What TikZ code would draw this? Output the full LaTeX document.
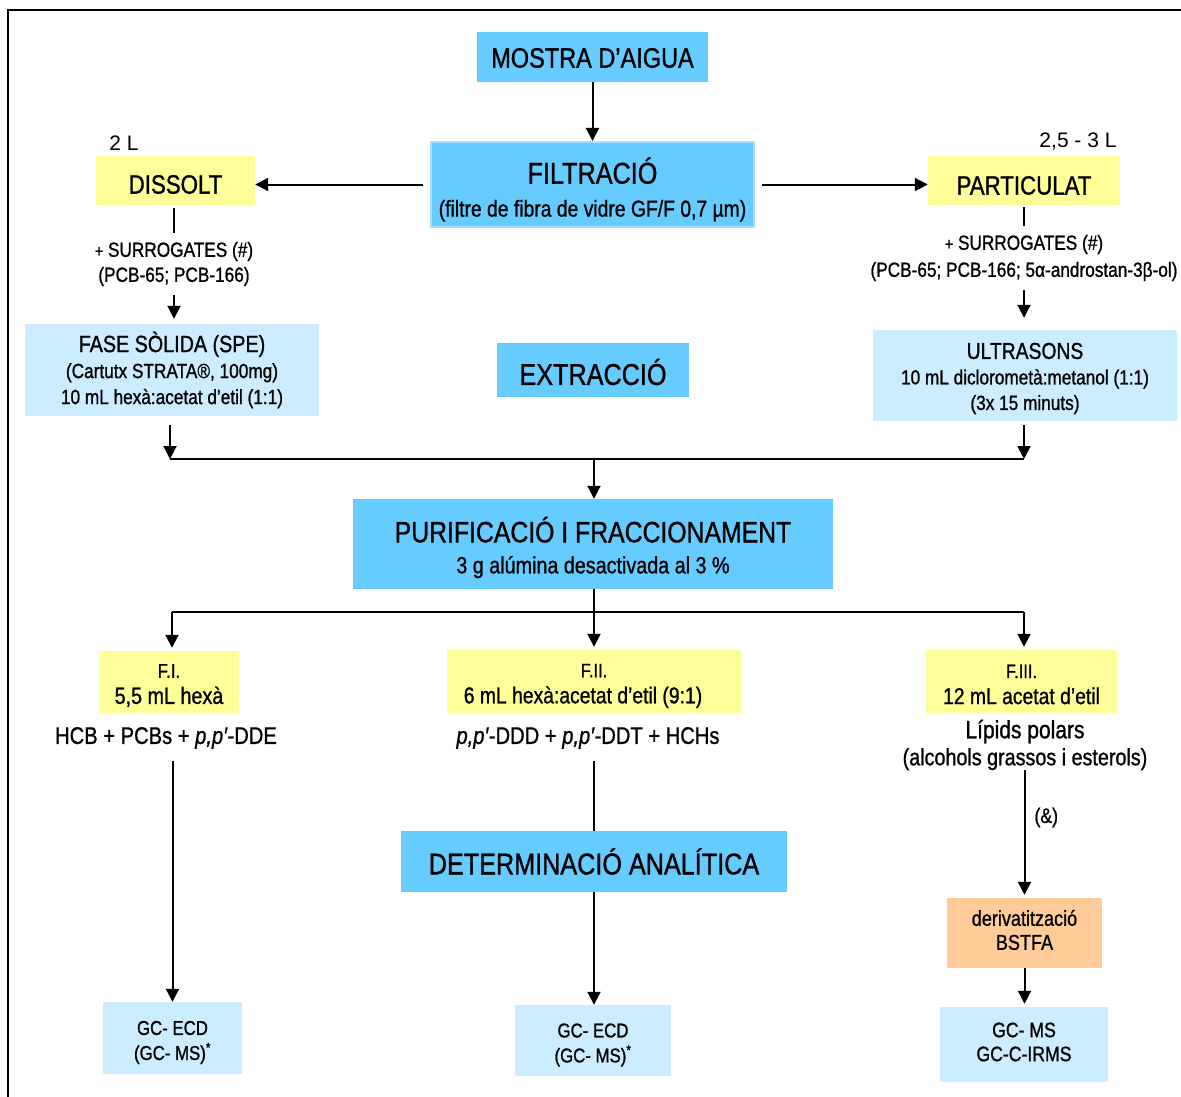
\documentclass[tikz,border=0pt]{standalone}
\usepackage{fontspec}
\setmainfont[FakeStretch=0.84,FakeBold=1]{Liberation Sans}
\newfontfamily\widefont{Liberation Sans}
\usetikzlibrary{arrows.meta}
\definecolor{midblue}{HTML}{66CCFF}
\definecolor{edgeblue}{HTML}{A8E0FF}
\definecolor{paleblue}{HTML}{CCECFF}
\definecolor{paleyellow}{HTML}{FFFF99}
\definecolor{paleorange}{HTML}{FFCC99}

\begin{document}
\begin{tikzpicture}[x=1pt,y=-1pt,
  box/.style={inner sep=0pt},
  bluebox/.style={box, fill=midblue},
  palebox/.style={box, fill=paleblue},
  yelbox/.style={box, fill=paleyellow},
  orgbox/.style={box, fill=paleorange},
  txt/.style={inner sep=0pt, align=center},
  ln/.style={line width=2pt},
  arr/.style={line width=2pt, -{Triangle[length=13pt,width=13pt]}}]
\useasboundingbox (0,0) rectangle (1181,1097);
\draw[line width=2pt] (8,1097) -- (8,10) -- (1181,10);

\node[bluebox, minimum width=231pt, minimum height=50pt] (mostra) at (592.5,57) {};
\node[bluebox, draw=edgeblue, line width=2pt, minimum width=323pt, minimum height=85pt] (filtr) at (592.5,184.5) {};
\node[yelbox, minimum width=159pt, minimum height=49pt] (dissolt) at (175.5,180.5) {};
\node[yelbox, minimum width=192pt, minimum height=49pt] (partic) at (1024,180.5) {};
\node[palebox, minimum width=294pt, minimum height=92pt] (spe) at (172,370) {};
\node[bluebox, minimum width=192pt, minimum height=54pt] (extr) at (593,370) {};
\node[palebox, minimum width=304pt, minimum height=91pt] (ultra) at (1025,375.5) {};
\node[bluebox, minimum width=480pt, minimum height=90pt] (purif) at (593,544) {};
\node[yelbox, minimum width=140pt, minimum height=62pt] (f1) at (169,682) {};
\node[yelbox, minimum width=294pt, minimum height=63pt] (f2) at (594,681.5) {};
\node[yelbox, minimum width=191pt, minimum height=63pt] (f3) at (1021.5,681.5) {};
\node[bluebox, minimum width=386pt, minimum height=61pt] (det) at (594,861.5) {};
\node[orgbox, minimum width=155pt, minimum height=70pt] (deriv) at (1024.5,933) {};
\node[palebox, minimum width=139pt, minimum height=72pt] (gc1) at (172.5,1038) {};
\node[palebox, minimum width=156pt, minimum height=71pt] (gc2) at (593,1040.5) {};
\node[palebox, minimum width=168pt, minimum height=75pt] (gc3) at (1024,1044.5) {};

\node[txt, font=\fontsize{28}{30}\selectfont] (t-mostra) at ([yshift=-1pt]mostra) {MOSTRA D’AIGUA};
\node[txt, font=\fontsize{23}{33}\selectfont] (t-filtr) at ([yshift=-5pt]filtr) {{\fontsize{30}{33}\selectfont FILTRACIÓ}\\(filtre de fibra de vidre GF/F 0,7 µm)};
\node[txt, font=\fontsize{26.5}{30}\selectfont] (t-dissolt) at ([yshift=-4pt]dissolt) {DISSOLT};
\node[txt, font=\fontsize{26.5}{30}\selectfont] (t-partic) at ([yshift=-5pt]partic) {PARTICULAT};
\node[txt, font=\widefont\fontsize{21}{24}\selectfont] (vdis) at (124,143) {2 L};
\node[txt, font=\widefont\fontsize{21}{24}\selectfont] (vpart) at (1078,142) {2,5 - 3 L};
\node[txt, inner ysep=9pt, font=\fontsize{20.5}{25}\selectfont] (surr1) at (174,264) {{\fontsize{17}{25}\selectfont +} SURROGATES (\#)\\(PCB-65; PCB-166)};
\node[txt, inner ysep=9pt, font=\fontsize{20.5}{27}\selectfont] (surr2) at (1024,258) {{\fontsize{17}{27}\selectfont +} SURROGATES (\#)\\(PCB-65; PCB-166; 5α-androstan-3β-ol)};
\node[txt, font=\fontsize{20.5}{26}\selectfont] (t-spe) at (spe) {{\fontsize{23.5}{26}\selectfont FASE SÒLIDA (SPE)}\\(Cartutx STRATA®, 100mg)\\10 mL hexà:acetat d’etil (1:1)};
\node[txt, font=\fontsize{30}{33}\selectfont] (t-extr) at ([yshift=-2pt]extr) {EXTRACCIÓ};
\node[txt, font=\fontsize{20.5}{25.5}\selectfont] (t-ultra) at ([yshift=-3pt]ultra) {{\fontsize{23}{25.5}\selectfont ULTRASONS}\\10 mL diclorometà:metanol (1:1)\\(3x 15 minuts)};
\node[txt, font=\fontsize{23.5}{31}\selectfont] (t-purif) at ([yshift=-3.5pt]purif) {{\fontsize{29.5}{31}\selectfont PURIFICACIÓ I FRACCIONAMENT}\\3 g alúmina desactivada al 3 \%};
\node[txt, font=\fontsize{23.5}{26}\selectfont] (t-f1) at ([yshift=-3.5pt]f1) {{\fontsize{20}{26}\selectfont F.I.}\\5,5 mL hexà};
\node[txt, font=\fontsize{23}{26}\selectfont] (t-f2) at ([yshift=-4.5pt]f2) {{\fontsize{19.5}{26}\selectfont F.II.}\\6 mL hexà:acetat d’etil (9:1)\hspace*{22pt}};
\node[txt, font=\fontsize{23}{26}\selectfont] (t-f3) at ([yshift=-3pt]f3) {{\fontsize{19.5}{26}\selectfont F.III.}\\12 mL acetat d’etil};
\node[txt, font=\fontsize{24}{26}\selectfont] (res1) at (166,738) {HCB + PCBs + \textit{p,p′}-DDE};
\node[txt, font=\fontsize{24}{26}\selectfont] (res2) at (588,738) {\textit{p,p′}-DDD + \textit{p,p′}-DDT + HCHs};
\node[txt, font=\fontsize{23.5}{27}\selectfont] (lip) at (1025,745) {{\fontsize{25}{27}\selectfont Lípids polars}\\(alcohols grassos i esterols)};
\node[txt, font=\fontsize{30}{33}\selectfont] (t-det) at (det) {DETERMINACIÓ ANALÍTICA};
\node[txt, font=\fontsize{21.5}{24}\selectfont] (t-deriv) at ([yshift=3pt]deriv) {derivatització\\BSTFA};
\node[txt, font=\fontsize{20}{25}\selectfont] (t-gc1) at ([yshift=-4.5pt]gc1) {GC- ECD\\(GC- MS)\textsuperscript{*}};
\node[txt, font=\fontsize{20}{25}\selectfont] (t-gc2) at ([yshift=-4.5pt]gc2) {GC- ECD\\(GC- MS)\textsuperscript{*}};
\node[txt, font=\fontsize{21}{24}\selectfont] (t-gc3) at ([yshift=2.5pt]gc3) {GC- MS\\GC-C-IRMS};

\draw[arr] (mostra.south) -- (mostra.south |- filtr.north);
\draw[arr, shorten <=7pt] (filtr.west) -- (filtr.west -| dissolt.east);
\draw[arr, shorten <=7pt] (filtr.east) -- (filtr.east -| partic.west);
\draw[ln, shorten <=3pt] (dissolt.south -| surr1.north) -- (surr1.north);
\draw[ln, shorten <=2pt] (partic.south -| surr2.north) -- (surr2.north);
\draw[arr, shorten >=5pt] (surr1.south) -- (surr1.south |- spe.north);
\draw[arr, shorten >=12pt] (surr2.south) -- (surr2.south |- ultra.north);

\coordinate (jl) at (170,459);
\coordinate (jm) at (594,459);
\coordinate (jr) at (1024,459);
\draw[arr, shorten <=9pt] (spe.south -| jl) -- (jl);
\draw[arr, shorten <=4pt] (ultra.south -| jr) -- (jr);
\draw[ln] (jl) -- (jr);
\draw[arr] (jm) -- (jm |- purif.north);

\coordinate (fl) at (172,612);
\coordinate (fm) at (594,612);
\coordinate (fr) at (1024,612);
\draw[ln] (purif.south -| fm) -- (fm);
\draw[ln] (fl) -- (fr);
\draw[arr, shorten >=3pt] (fl) -- (fl |- f1.north);
\draw[arr, shorten >=3pt] (fm) -- (fm |- f2.north);
\draw[arr, shorten >=3pt] (fr) -- (fr |- f3.north);

\draw[arr, shorten <=12pt] (res1.south -| gc1.north) -- (gc1.north);
\draw[ln, shorten <=12pt] (res2.south -| det.north) -- (det.north);
\draw[arr] (det.south) -- (det.south |- gc2.north);
\draw[arr, shorten >=3pt] (lip.south -| deriv.north) -- node[pos=0.37, anchor=west, xshift=9pt, inner sep=0pt, font=\fontsize{21}{24}\selectfont] (amp) {(\&)} (deriv.north);
\draw[arr, shorten >=3pt] (deriv.south) -- (deriv.south |- gc3.north);
\end{tikzpicture}
\end{document}
